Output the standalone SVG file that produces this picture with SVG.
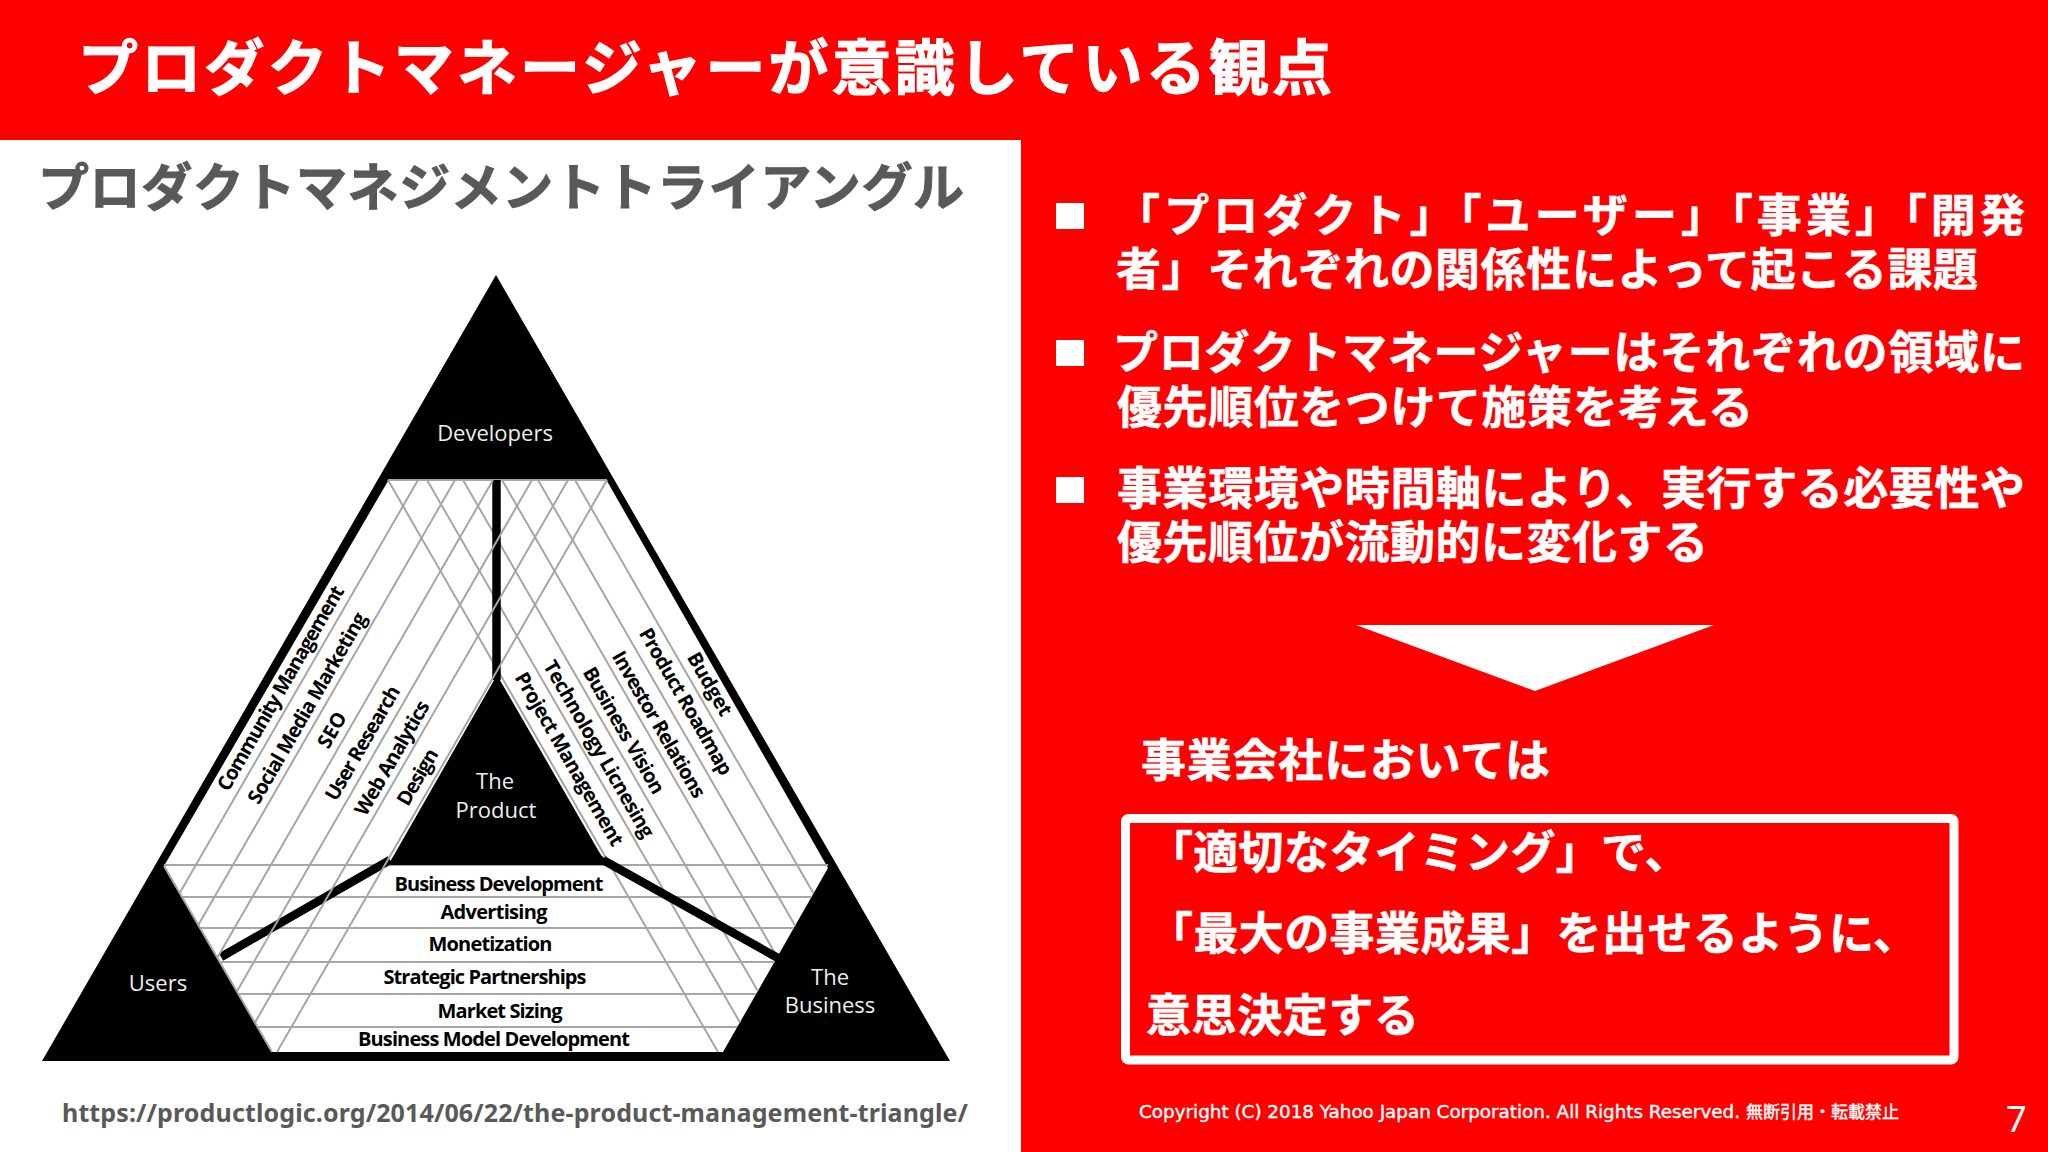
<svg xmlns="http://www.w3.org/2000/svg" width="2048" height="1152" viewBox="0 0 2048 1152">
<style>
.jp{font-family:"Noto Sans CJK JP","Noto Sans",sans-serif;font-weight:700}
.w{fill:#fff;stroke:#fff;stroke-width:.6}
.body{font-size:45px}
.gr{stroke:#a6a6a6;stroke-width:2;fill:none}
.blk{stroke:#000;stroke-width:8.500;fill:none}
.lab{font-family:"Open Sans","Noto Sans",sans-serif;font-weight:700;font-size:20px;fill:#000}
.nd{font-family:"Open Sans","Noto Sans",sans-serif;font-size:22px;fill:#eee;text-anchor:middle}
.rot{text-anchor:middle}
.cp{font-family:"DejaVu Sans","Noto Sans CJK JP",sans-serif;font-size:17px;fill:#fff;stroke:#fff;stroke-width:.4}
</style>
<rect width="2048" height="1152" fill="#ff0000"/>
<rect x="0" y="140" width="1021" height="1012" fill="#fff"/>
<text class="jp w" x="78" y="90" font-size="60" textLength="1254" lengthAdjust="spacing" style="stroke-width:1.200">プロダクトマネージャーが意識している観点</text>
<text class="jp" x="38" y="206" font-size="51" fill="#595959" stroke="#595959" stroke-width="1" textLength="926" lengthAdjust="spacing">プロダクトマネジメントトライアングル</text>

<g id="triangle-frame">
<polygon points="496,275 42,1061 950,1061" fill="#000"/>
<polygon points="388,481 607,481 828,868 723,1052 272,1052 164,866" fill="#fff"/>
</g>
<g id="connectors">
<path class="gr" d="M575 480L813.6 893.6M538 480L795.3 925.9M502 480L777.4 957.3M463 480L758 991.3M427 480L740.1 1022.7M388 480L718 1052"/>
<path class="gr" d="M164 865H828M182 897H811.5M200 928H793.8M219.5 962H774.4M238 994H756M257 1027H737"/>
<path class="gr" d="M388 480H607M164 866L272 1052"/>
<path class="blk" d="M496.500 480V680"/>
<path class="blk" d="M390 860L221 957"/>
<path class="blk" d="M603 860L778 958"/>
<path class="gr" d="M418 480L179.700 893M455 480L198.300 925M493 480L217.400 957.600M532 480L236.900 991.400M568 480L255 1022.500M607 480L277 1052"/>
</g>
<g id="node-product">
<path d="M497 675L598 850Q603 860 612 862L606 865H388L394 855Z" fill="#000"/>
<text class="nd" x="495" y="789">The</text>
<text class="nd" x="496" y="818">Product</text>
</g>
<g id="node-developers"><text class="nd" x="495" y="441">Developers</text></g>
<g id="node-users"><text class="nd" x="158" y="991">Users</text></g>
<g id="node-business">
<text class="nd" x="830" y="985">The</text>
<text class="nd" x="830" y="1013">Business</text>
</g>
<g id="labels-left">
<text class="lab rot" transform="translate(280.500 688) rotate(-60)" y="7" textLength="233">Community Management</text>
<text class="lab rot" transform="translate(307 708) rotate(-60)" y="7" textLength="217">Social Media Marketing</text>
<text class="lab rot" transform="translate(332 730) rotate(-60)" y="7" textLength="38">SEO</text>
<text class="lab rot" transform="translate(362.500 743) rotate(-60)" y="7" textLength="129">User Research</text>
<text class="lab rot" transform="translate(392 758) rotate(-60)" y="7" textLength="129">Web Analytics</text>
<text class="lab rot" transform="translate(417.500 777) rotate(-60)" y="7" textLength="62">Design</text>
</g>
<g id="labels-right">
<text class="lab rot" transform="translate(710 684) rotate(60)" y="7" textLength="70">Budget</text>
<text class="lab rot" transform="translate(686 701.500) rotate(60)" y="7" textLength="166">Product Roadmap</text>
<text class="lab rot" transform="translate(659 724.500) rotate(60)" y="7" textLength="166">Investor Relations</text>
<text class="lab rot" transform="translate(624 730.500) rotate(60)" y="7" textLength="143">Business Vision</text>
<text class="lab rot" transform="translate(599 749) rotate(60)" y="7" textLength="201">Technology Licnesing</text>
<text class="lab rot" transform="translate(569.500 759) rotate(60)" y="7" textLength="197">Project Management</text>
</g>
<g id="labels-bottom">
<text class="lab" x="394.500" y="891" textLength="209">Business Development</text>
<text class="lab" x="440.500" y="918.500" textLength="107">Advertising</text>
<text class="lab" x="428.500" y="951" textLength="124">Monetization</text>
<text class="lab" x="383.500" y="984" textLength="203">Strategic Partnerships</text>
<text class="lab" x="437.500" y="1018" textLength="125">Market Sizing</text>
<text class="lab" x="358" y="1045.500" textLength="272">Business Model Development</text>
</g>
<text x="62" y="1122" font-family="Noto Sans,sans-serif" font-weight="700" font-size="25" fill="#595959" textLength="906" lengthAdjust="spacing">https://productlogic.org/2014/06/22/the-product-management-triangle/</text>

<g id="bullets" fill="#fff">
<rect x="1056" y="203" width="28" height="26"/>
<rect x="1056" y="340" width="28" height="26"/>
<rect x="1056" y="477" width="28" height="26"/>
</g>
<g id="bullet-text">
<text class="jp w body" x="1115" y="232" textLength="910" lengthAdjust="spacing">「プロダクト」「ユーザー」「事業」「開発</text>
<text class="jp w body" x="1116" y="286" textLength="862" lengthAdjust="spacing">者」それぞれの関係性によって起こる課題</text>
<text class="jp w body" x="1113" y="369" textLength="912" lengthAdjust="spacing">プロダクトマネージャーはそれぞれの領域に</text>
<text class="jp w body" x="1117" y="423.500" textLength="636" lengthAdjust="spacing">優先順位をつけて施策を考える</text>
<text class="jp w body" x="1117" y="505" textLength="908" lengthAdjust="spacing">事業環境や時間軸により、実行する必要性や</text>
<text class="jp w body" x="1117" y="559" textLength="591" lengthAdjust="spacing">優先順位が流動的に変化する</text>
</g>
<polygon id="down-arrow" points="1356,625 1714,625 1535,691" fill="#fff"/>
<text class="jp w body" x="1141" y="777" textLength="409" lengthAdjust="spacing">事業会社においては</text>
<g id="result-box">
<rect x="1125.500" y="818.500" width="828.500" height="241.500" rx="3" fill="none" stroke="#fff" stroke-width="9"/>
<text class="jp w body" x="1148" y="869" letter-spacing=".3">「適切なタイミング」で、</text>
<text class="jp w body" x="1148" y="950" letter-spacing=".4">「最大の事業成果」を出せるように、</text>
<text class="jp w body" x="1146" y="1032" letter-spacing=".6">意思決定する</text>
</g>
<text class="cp" x="1139" y="1118" textLength="601" lengthAdjust="spacingAndGlyphs">Copyright (C) 2018 Yahoo Japan Corporation. All Rights Reserved.</text>
<text class="cp" x="1746" y="1118" textLength="153" lengthAdjust="spacingAndGlyphs">無断引用・転載禁止</text>
<text x="2006" y="1132" font-family="Noto Sans,sans-serif" font-size="36" fill="#fff">7</text>
</svg>
